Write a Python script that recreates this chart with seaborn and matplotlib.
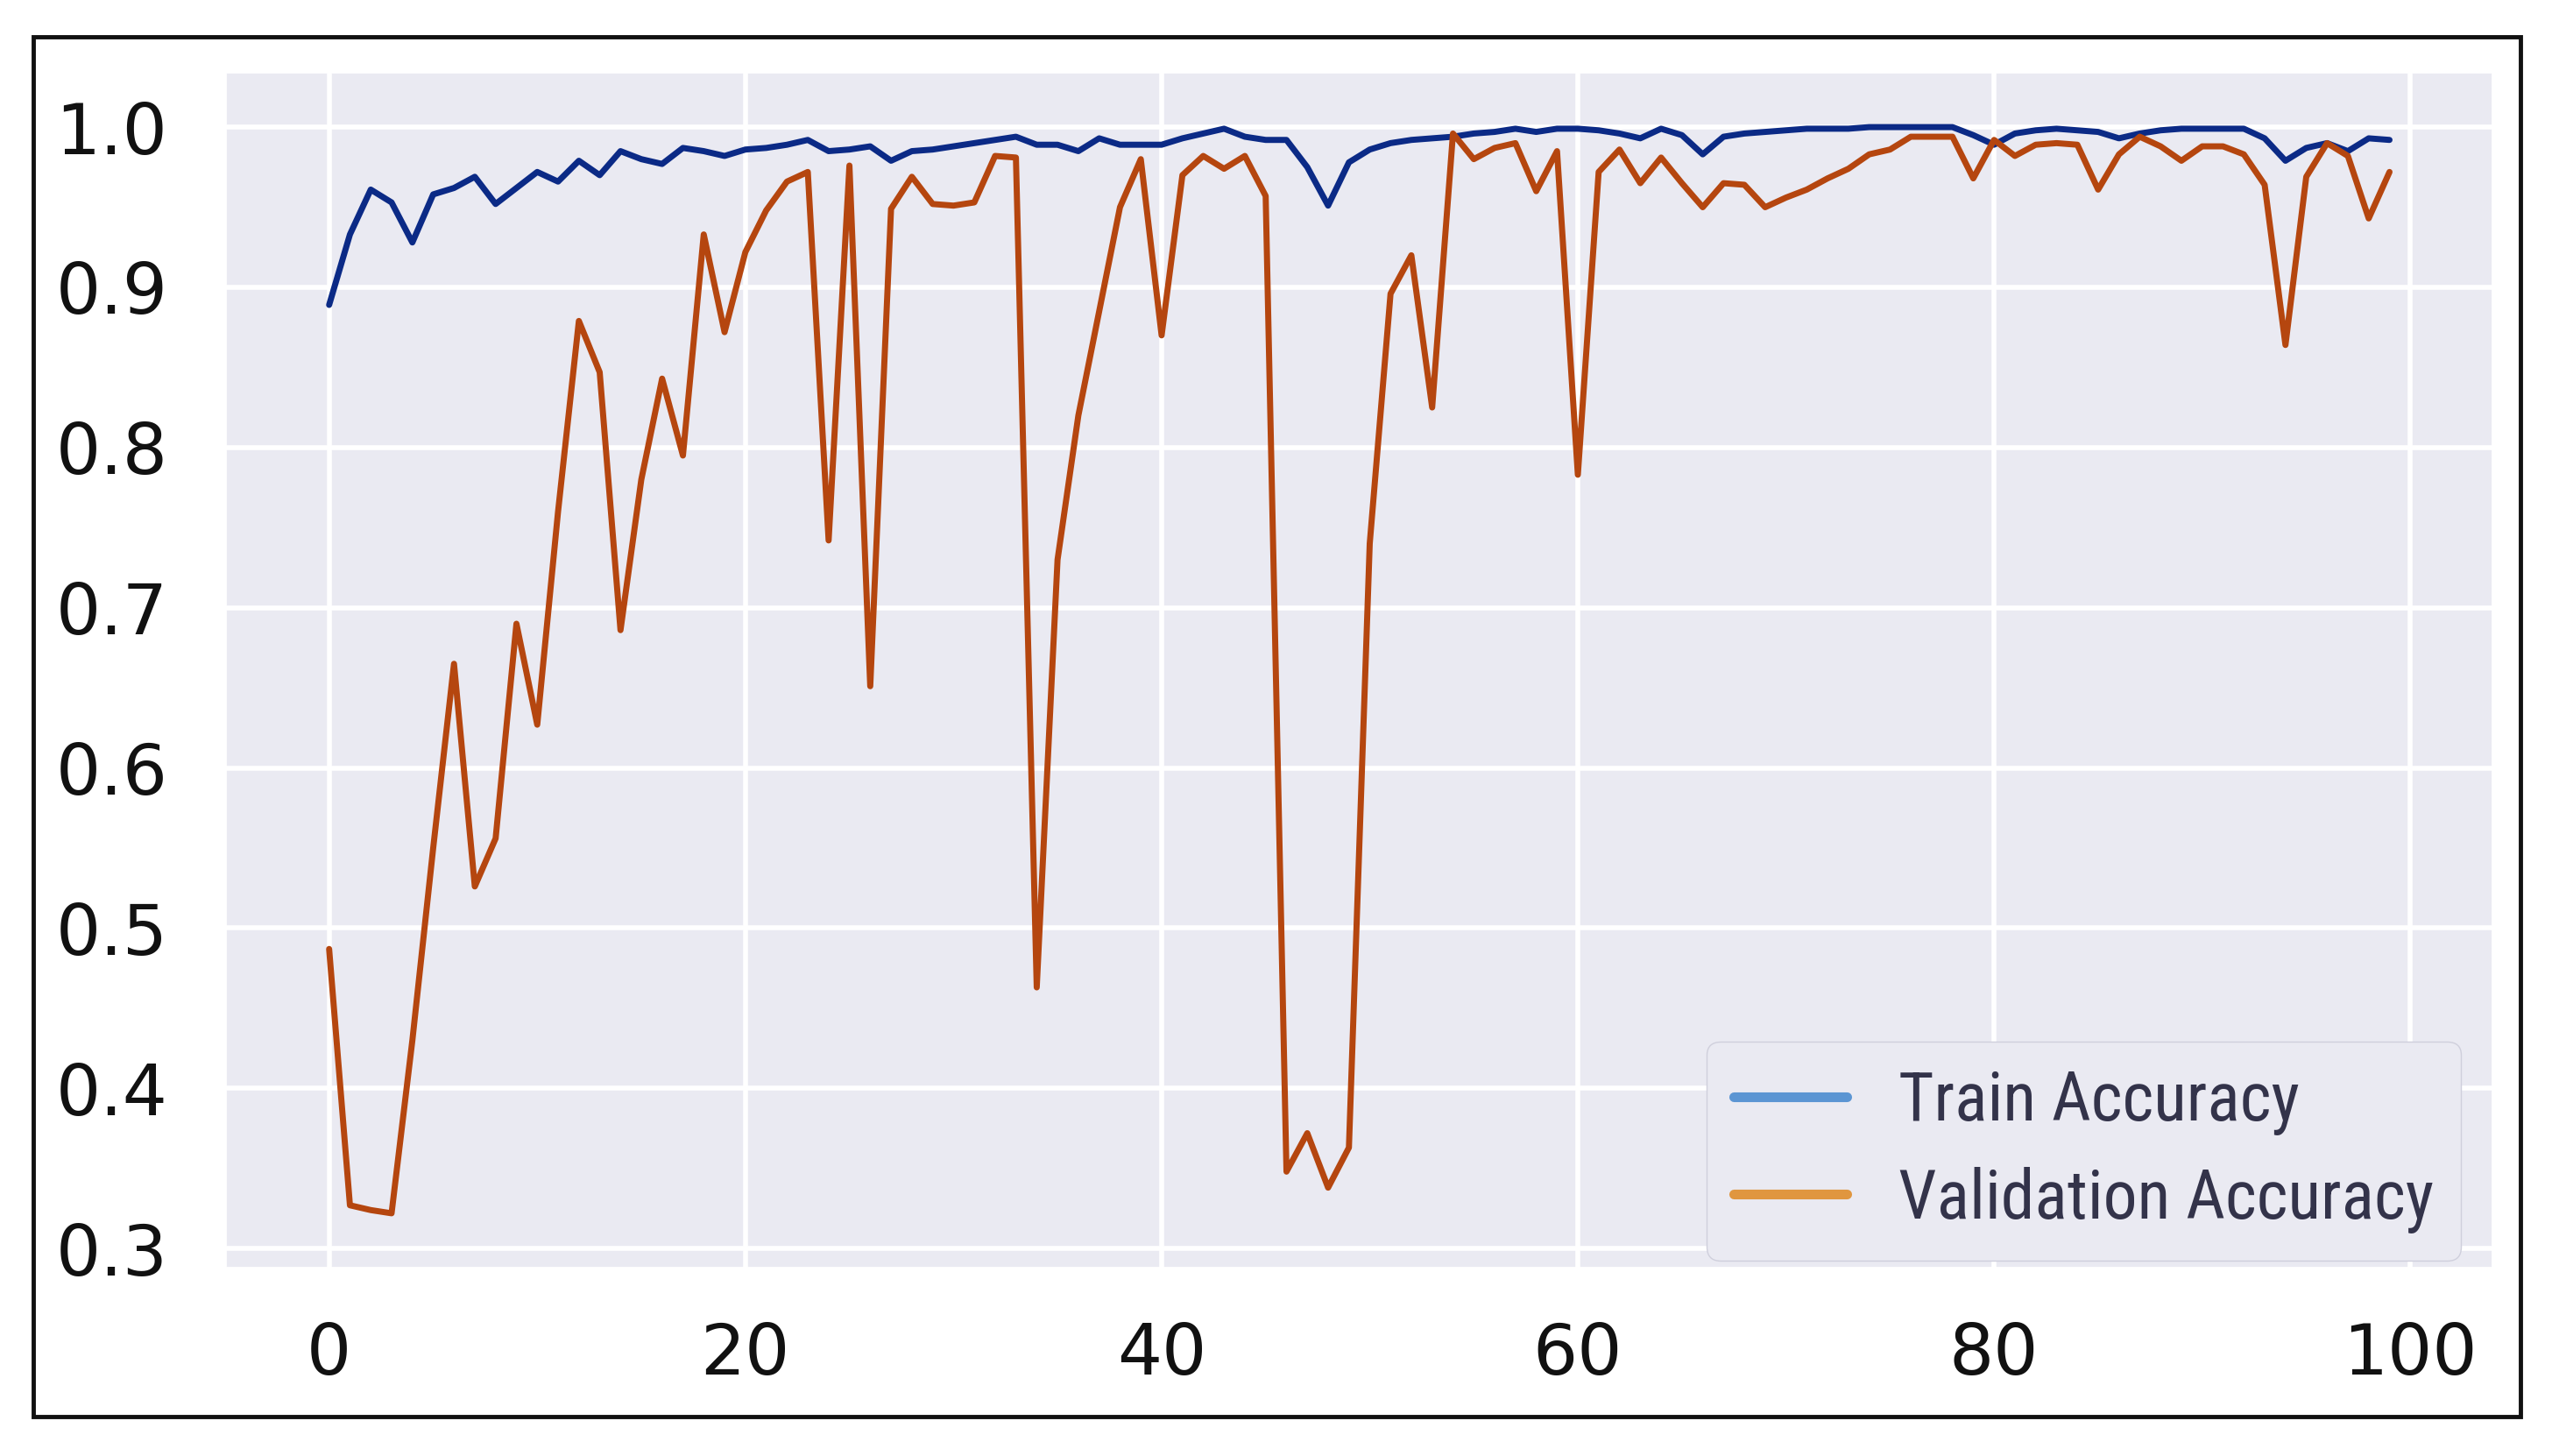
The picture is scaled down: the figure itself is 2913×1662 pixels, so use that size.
import matplotlib
matplotlib.use("Agg")
import matplotlib.pyplot as plt
from matplotlib import font_manager
from matplotlib.lines import Line2D
from matplotlib.patches import Rectangle
import seaborn as sns

# per-epoch accuracy
epochs = list(range(100))

train_acc = [
    0.889, 0.933, 0.961, 0.953, 0.928, 0.958, 0.962, 0.969, 0.952, 0.962,
    0.972, 0.966, 0.979, 0.970, 0.985, 0.980, 0.977, 0.987, 0.985, 0.982,
    0.986, 0.987, 0.989, 0.992, 0.985, 0.986, 0.988, 0.979, 0.985, 0.986,
    0.988, 0.990, 0.992, 0.994, 0.989, 0.989, 0.985, 0.993, 0.989, 0.989,
    0.989, 0.993, 0.996, 0.999, 0.994, 0.992, 0.992, 0.975, 0.951, 0.978,
    0.986, 0.990, 0.992, 0.993, 0.994, 0.996, 0.997, 0.999, 0.997, 0.999,
    0.999, 0.998, 0.996, 0.993, 0.999, 0.995, 0.983, 0.994, 0.996, 0.997,
    0.998, 0.999, 0.999, 0.999, 1.000, 1.000, 1.000, 1.000, 1.000, 0.995,
    0.989, 0.996, 0.998, 0.999, 0.998, 0.997, 0.993, 0.996, 0.998, 0.999,
    0.999, 0.999, 0.999, 0.993, 0.979, 0.987, 0.990, 0.985, 0.993, 0.992,
]

val_acc = [
    0.487, 0.327, 0.324, 0.322, 0.430, 0.550, 0.665, 0.526, 0.556, 0.690,
    0.627, 0.760, 0.879, 0.847, 0.686, 0.780, 0.843, 0.795, 0.933, 0.872,
    0.922, 0.948, 0.966, 0.972, 0.742, 0.976, 0.651, 0.949, 0.969, 0.952,
    0.951, 0.953, 0.982, 0.981, 0.463, 0.730, 0.820, 0.885, 0.950, 0.980,
    0.870, 0.970, 0.982, 0.974, 0.982, 0.957, 0.348, 0.372, 0.338, 0.363,
    0.740, 0.896, 0.920, 0.825, 0.996, 0.980, 0.987, 0.990, 0.960, 0.985,
    0.783, 0.972, 0.986, 0.965, 0.981, 0.965, 0.950, 0.965, 0.964, 0.950,
    0.956, 0.961, 0.968, 0.974, 0.983, 0.986, 0.994, 0.994, 0.994, 0.968,
    0.992, 0.982, 0.989, 0.990, 0.989, 0.961, 0.983, 0.994, 0.988, 0.979,
    0.988, 0.988, 0.983, 0.964, 0.864, 0.969, 0.990, 0.982, 0.943, 0.972,
]

labels = ["Train Accuracy", "Validation Accuracy"]
line_colors = ["#0b2a86", "#b5460f"]
legend_colors = ["#5b95d3", "#e0963f"]
yticks = [0.3, 0.4, 0.5, 0.6, 0.7, 0.8, 0.9, 1.0]
xticks = [0, 20, 40, 60, 80, 100]

# the legend text is a narrow sans; take one if it is there
installed = {f.name for f in font_manager.fontManager.ttflist}
legend_font = "Liberation Sans"
for name in ["Liberation Sans Narrow", "Arial Narrow", "Roboto Condensed"]:
    if name in installed:
        legend_font = name
        break
legend_size = 56 if "Narrow" in legend_font or "Condensed" in legend_font else 49

sns.set_theme(style="darkgrid")
plt.rcParams["font.family"] = ["DejaVu Sans"]

fig = plt.figure(figsize=(29.13, 16.62), dpi=100)
ax = fig.add_axes([0.0886, 0.1294, 0.8881, 0.8206])

sns.lineplot(x=epochs, y=train_acc, color=line_colors[0], linewidth=5, ax=ax)
sns.lineplot(x=epochs, y=val_acc, color=line_colors[1], linewidth=5, ax=ax)

ax.grid(color="white", linewidth=4)
ax.set_xticks(xticks)
ax.set_yticks(yticks)
ax.set_yticklabels([f"{v:.1f}" for v in yticks])
ax.tick_params(axis="both", labelsize=58, labelcolor="#111111")
ax.tick_params(axis="y", pad=42)
ax.tick_params(axis="x", pad=38)

# legend swatches are lighter than the drawn lines in the original
handles = [Line2D([], [], color=c, linewidth=8) for c in legend_colors]
leg = ax.legend(handles, labels, loc="lower right", bbox_to_anchor=(0.986, 0.006),
                borderaxespad=0, prop={"family": [legend_font, "DejaVu Sans"], "size": legend_size},
                handlelength=1.66, handletextpad=0.75, labelspacing=0.46, borderpad=0.4,
                frameon=True, facecolor="#EAEAF2", edgecolor="#cfcfdc", framealpha=1)
for t in leg.get_texts():
    t.set_color("#33334a")

# black frame round the whole picture
fig.patches.append(Rectangle((38 / 2913, 1 - 1617 / 1662), (2877 - 38) / 2913, (1617 - 42) / 1662,
                             transform=fig.transFigure, fill=False, edgecolor="#111111", linewidth=3.5))

fig.savefig("out.png", dpi=100, facecolor="white")
